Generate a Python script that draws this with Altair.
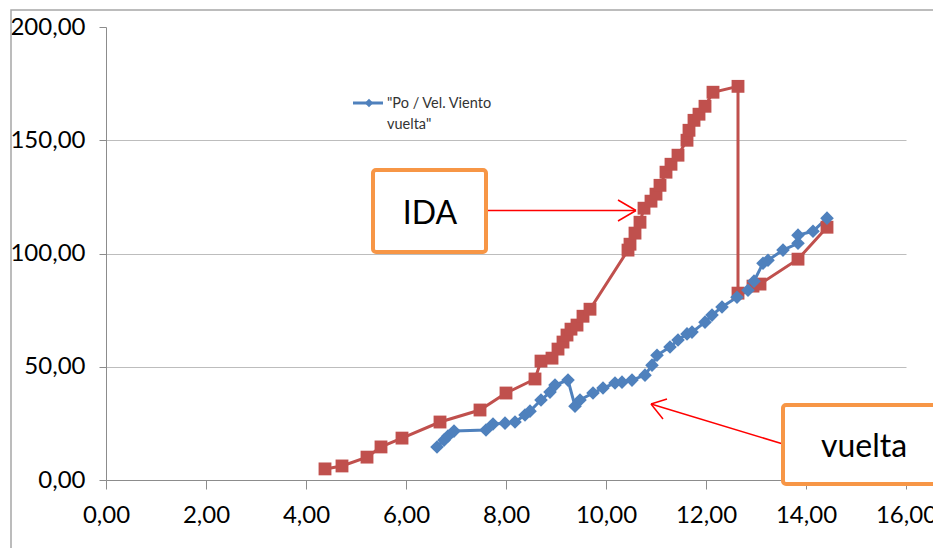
import altair as alt
import pandas as pd

# IDA series (red squares)
ida_x = [4.38, 4.72, 5.22, 5.50, 5.92, 6.68, 7.48, 8.00, 8.58, 8.70, 8.92, 9.04, 9.14, 9.22,
         9.30, 9.42, 9.54, 9.68, 10.44, 10.48, 10.58, 10.68, 10.76, 10.90, 11.00, 11.08,
         11.20, 11.30, 11.44, 11.62, 11.66, 11.76, 11.86, 11.98, 12.14, 12.64, 12.64,
         12.94, 13.08, 13.84, 14.42]
ida_y = [4.9, 6.2, 10.1, 14.6, 18.5, 25.6, 30.9, 38.4, 44.6, 52.5, 53.8, 57.8, 60.9, 64.0,
         66.6, 68.4, 72.3, 75.4, 101.5, 104.1, 109.0, 113.8, 120.0, 123.1, 126.2, 130.1,
         135.9, 139.4, 143.4, 150.0, 154.4, 158.8, 161.5, 165.0, 171.2, 173.8, 82.5,
         85.6, 86.5, 97.5, 111.6]

# vuelta series (blue diamonds)
vue_x = [6.62, 6.76, 6.84, 6.96, 7.60, 7.74, 7.98, 8.18, 8.38, 8.48, 8.70, 8.88, 8.98, 9.24,
         9.38, 9.48, 9.74, 9.94, 10.18, 10.32, 10.52, 10.78, 10.92, 11.02, 11.28, 11.44,
         11.62, 11.72, 11.98, 12.12, 12.32, 12.62, 12.84, 12.96, 13.14, 13.24, 13.54,
         13.84, 13.84, 14.14, 14.42]
vue_y = [14.6, 17.6, 19.4, 21.6, 22.1, 24.7, 25.1, 25.6, 28.7, 30.4, 35.3, 38.8, 41.9, 44.1,
         32.6, 35.3, 38.4, 40.6, 42.8, 43.2, 44.1, 46.3, 50.7, 55.1, 58.7, 61.8,
         64.5, 65.3, 69.7, 72.8, 76.4, 80.7, 83.8, 87.8, 95.7, 97.0, 101.5,
         104.5, 108.1, 109.8, 115.6]

x_ticks = [0, 2, 4, 6, 8, 10, 12, 14, 16]
y_ticks = [0, 50, 100, 150, 200]

RED = "#C0504D"
BLUE = "#4F81BD"
ORANGE = "#F79646"
FONT = "Lato"

ida = pd.DataFrame({"x": ida_x, "y": ida_y, "idx": range(len(ida_x))})
vue = pd.DataFrame({"x": vue_x, "y": vue_y, "idx": range(len(vue_x))})

fmt = "replace(format(datum.value, '.2f'), '.', ',')"

xenc = alt.X("x:Q", scale=alt.Scale(domain=[0, 16], nice=False),
             axis=alt.Axis(values=x_ticks, labelExpr=fmt, grid=False, tickSize=9,
                           labelPadding=14, labelFont=FONT, labelFontSize=24,
                           labelColor="#000000", domainColor="#8c8c8c", tickColor="#8c8c8c",
                           labelFlush=False, labelOverlap=False, title=None))
yenc = alt.Y("y:Q", scale=alt.Scale(domain=[0, 200], nice=False),
             axis=alt.Axis(values=y_ticks, labelExpr=fmt, grid=True, gridColor="#bdbdbd",
                           gridOpacity={"condition": {"test": "datum.value >= 200 || datum.value <= 0", "value": 0}, "value": 1},
                           tickSize=7, labelPadding=14, labelFont=FONT, labelFontSize=24,
                           labelColor="#000000", domainColor="#8c8c8c", tickColor="#8c8c8c",
                           labelOverlap=False, title=None))

one = pd.DataFrame({"a": [0]})

border = alt.Chart(one).mark_rect(fill=None, stroke="#a6a6a6", strokeWidth=1.5).encode(
    x=alt.value(-95), x2=alt.value(1000), y=alt.value(-17), y2=alt.value(700))

ida_line = alt.Chart(ida).mark_line(color=RED, strokeWidth=3).encode(x=xenc, y=yenc, order="idx:Q")
ida_pts = alt.Chart(ida).mark_point(shape="square", filled=True, color=RED, size=165, opacity=1).encode(x="x:Q", y="y:Q")
vue_line = alt.Chart(vue).mark_line(color=BLUE, strokeWidth=3).encode(x="x:Q", y="y:Q", order="idx:Q")
vue_pts = alt.Chart(vue).mark_point(shape="diamond", filled=True, color=BLUE, size=185, opacity=1).encode(x="x:Q", y="y:Q")

# legend
leg_line = alt.Chart(one).mark_rule(color=BLUE, strokeWidth=3).encode(
    x=alt.value(247), x2=alt.value(277), y=alt.value(76))
leg_pt = alt.Chart(one).mark_point(shape="diamond", filled=True, color=BLUE, size=70, opacity=1).encode(
    x=alt.value(263), y=alt.value(76))
leg_t1 = alt.Chart(one).mark_text(text='"Po / Vel. Viento', align="left", baseline="alphabetic",
                                  font=FONT, fontSize=14.5, color="#333333").encode(x=alt.value(281), y=alt.value(81))
leg_t2 = alt.Chart(one).mark_text(text='vuelta"', align="left", baseline="alphabetic",
                                  font=FONT, fontSize=14.5, color="#333333").encode(x=alt.value(281), y=alt.value(102))

# IDA box and arrow
ida_box = alt.Chart(one).mark_rect(fill="white", stroke=ORANGE, strokeWidth=4, cornerRadius=3).encode(
    x=alt.value(267), x2=alt.value(380), y=alt.value(143), y2=alt.value(225))
ida_txt = alt.Chart(one).mark_text(text="IDA", align="center", baseline="alphabetic",
                                   font=FONT, fontSize=32, color="#000000").encode(x=alt.value(324), y=alt.value(197))
arrows = []
for (x1, y1, x2, y2) in [(380, 183.5, 530, 183.5), (530, 183.5, 512, 173), (530, 183.5, 512, 194),
                         (677, 417, 545, 377), (545, 377, 561, 372), (545, 377, 557, 392)]:
    arrows.append(alt.Chart(one).mark_rule(color="#FF0000", strokeWidth=1.5).encode(
        x=alt.value(x1), y=alt.value(y1), x2=alt.value(x2), y2=alt.value(y2)))

vue_box = alt.Chart(one).mark_rect(fill="white", stroke=ORANGE, strokeWidth=4, cornerRadius=3).encode(
    x=alt.value(677), x2=alt.value(900), y=alt.value(378), y2=alt.value(457))
vue_txt = alt.Chart(one).mark_text(text="vuelta", align="center", baseline="alphabetic",
                                   font=FONT, fontSize=32, color="#000000").encode(x=alt.value(758), y=alt.value(430))

chart = alt.layer(
    border, ida_line, vue_line, ida_pts, vue_pts,
    leg_line, leg_pt, leg_t1, leg_t2,
    *arrows, ida_box, ida_txt, vue_box, vue_txt
).properties(
    width=800, height=453,
    autosize=alt.AutoSizeParams(type="none"),
    padding={"left": 106, "top": 27, "right": 27, "bottom": 68},
    background="white"
).configure_view(strokeWidth=0)

chart.save("out.html", embed_options={"renderer": "svg", "actions": False})
